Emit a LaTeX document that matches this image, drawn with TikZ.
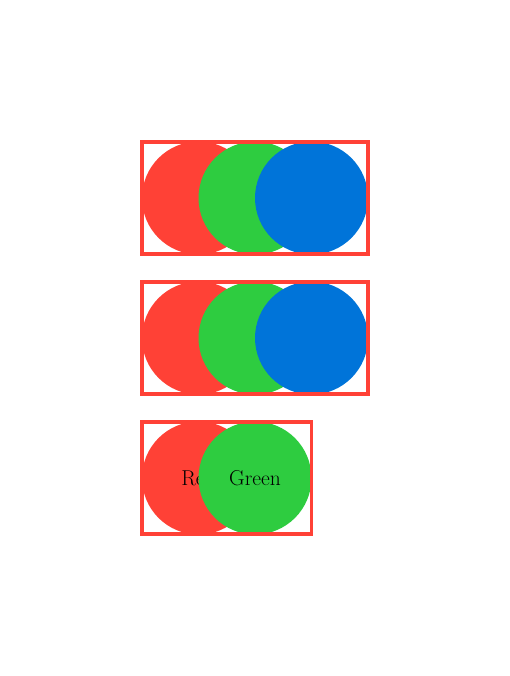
\documentclass[tikz,border=0pt]{standalone}
\usepackage{fontspec}
\begin{document}
\begin{tikzpicture}[x=1pt,y=-1pt,
  dot/.style={circle,minimum size=113pt,inner sep=0pt,text=black,font=\fontsize{21.5}{24}\selectfont},
  frame/.style={draw=cred,line width=3.5pt}]
\definecolor{cred}{HTML}{FF4136}
\definecolor{cgreen}{HTML}{2ECC40}
\definecolor{cblue}{HTML}{0074D9}
\useasboundingbox (0,0) rectangle (510,676);
% row 1
\node[dot,fill=cred] (r1) at (198.5,198) {};
\node[dot,fill=cgreen] (g1) at (255,198) {};
\node[dot,fill=cblue] (b1) at (311.5,198) {};
\draw[frame] (142,142) rectangle (368,254);
% row 2
\node[dot,fill=cred] (r2) at (198.5,338) {};
\node[dot,fill=cgreen] (g2) at (255,338) {};
\node[dot,fill=cblue] (b2) at (311.5,338) {};
\draw[frame] (142,282) rectangle (368,394);
% row 3
\node[dot,fill=cred] (r3) at (198.5,478) {Red};
\node[dot,fill=cgreen] (g3) at (255,478) {Green};
\draw[frame] (142,422) rectangle (311.5,534);
\end{tikzpicture}
\end{document}
